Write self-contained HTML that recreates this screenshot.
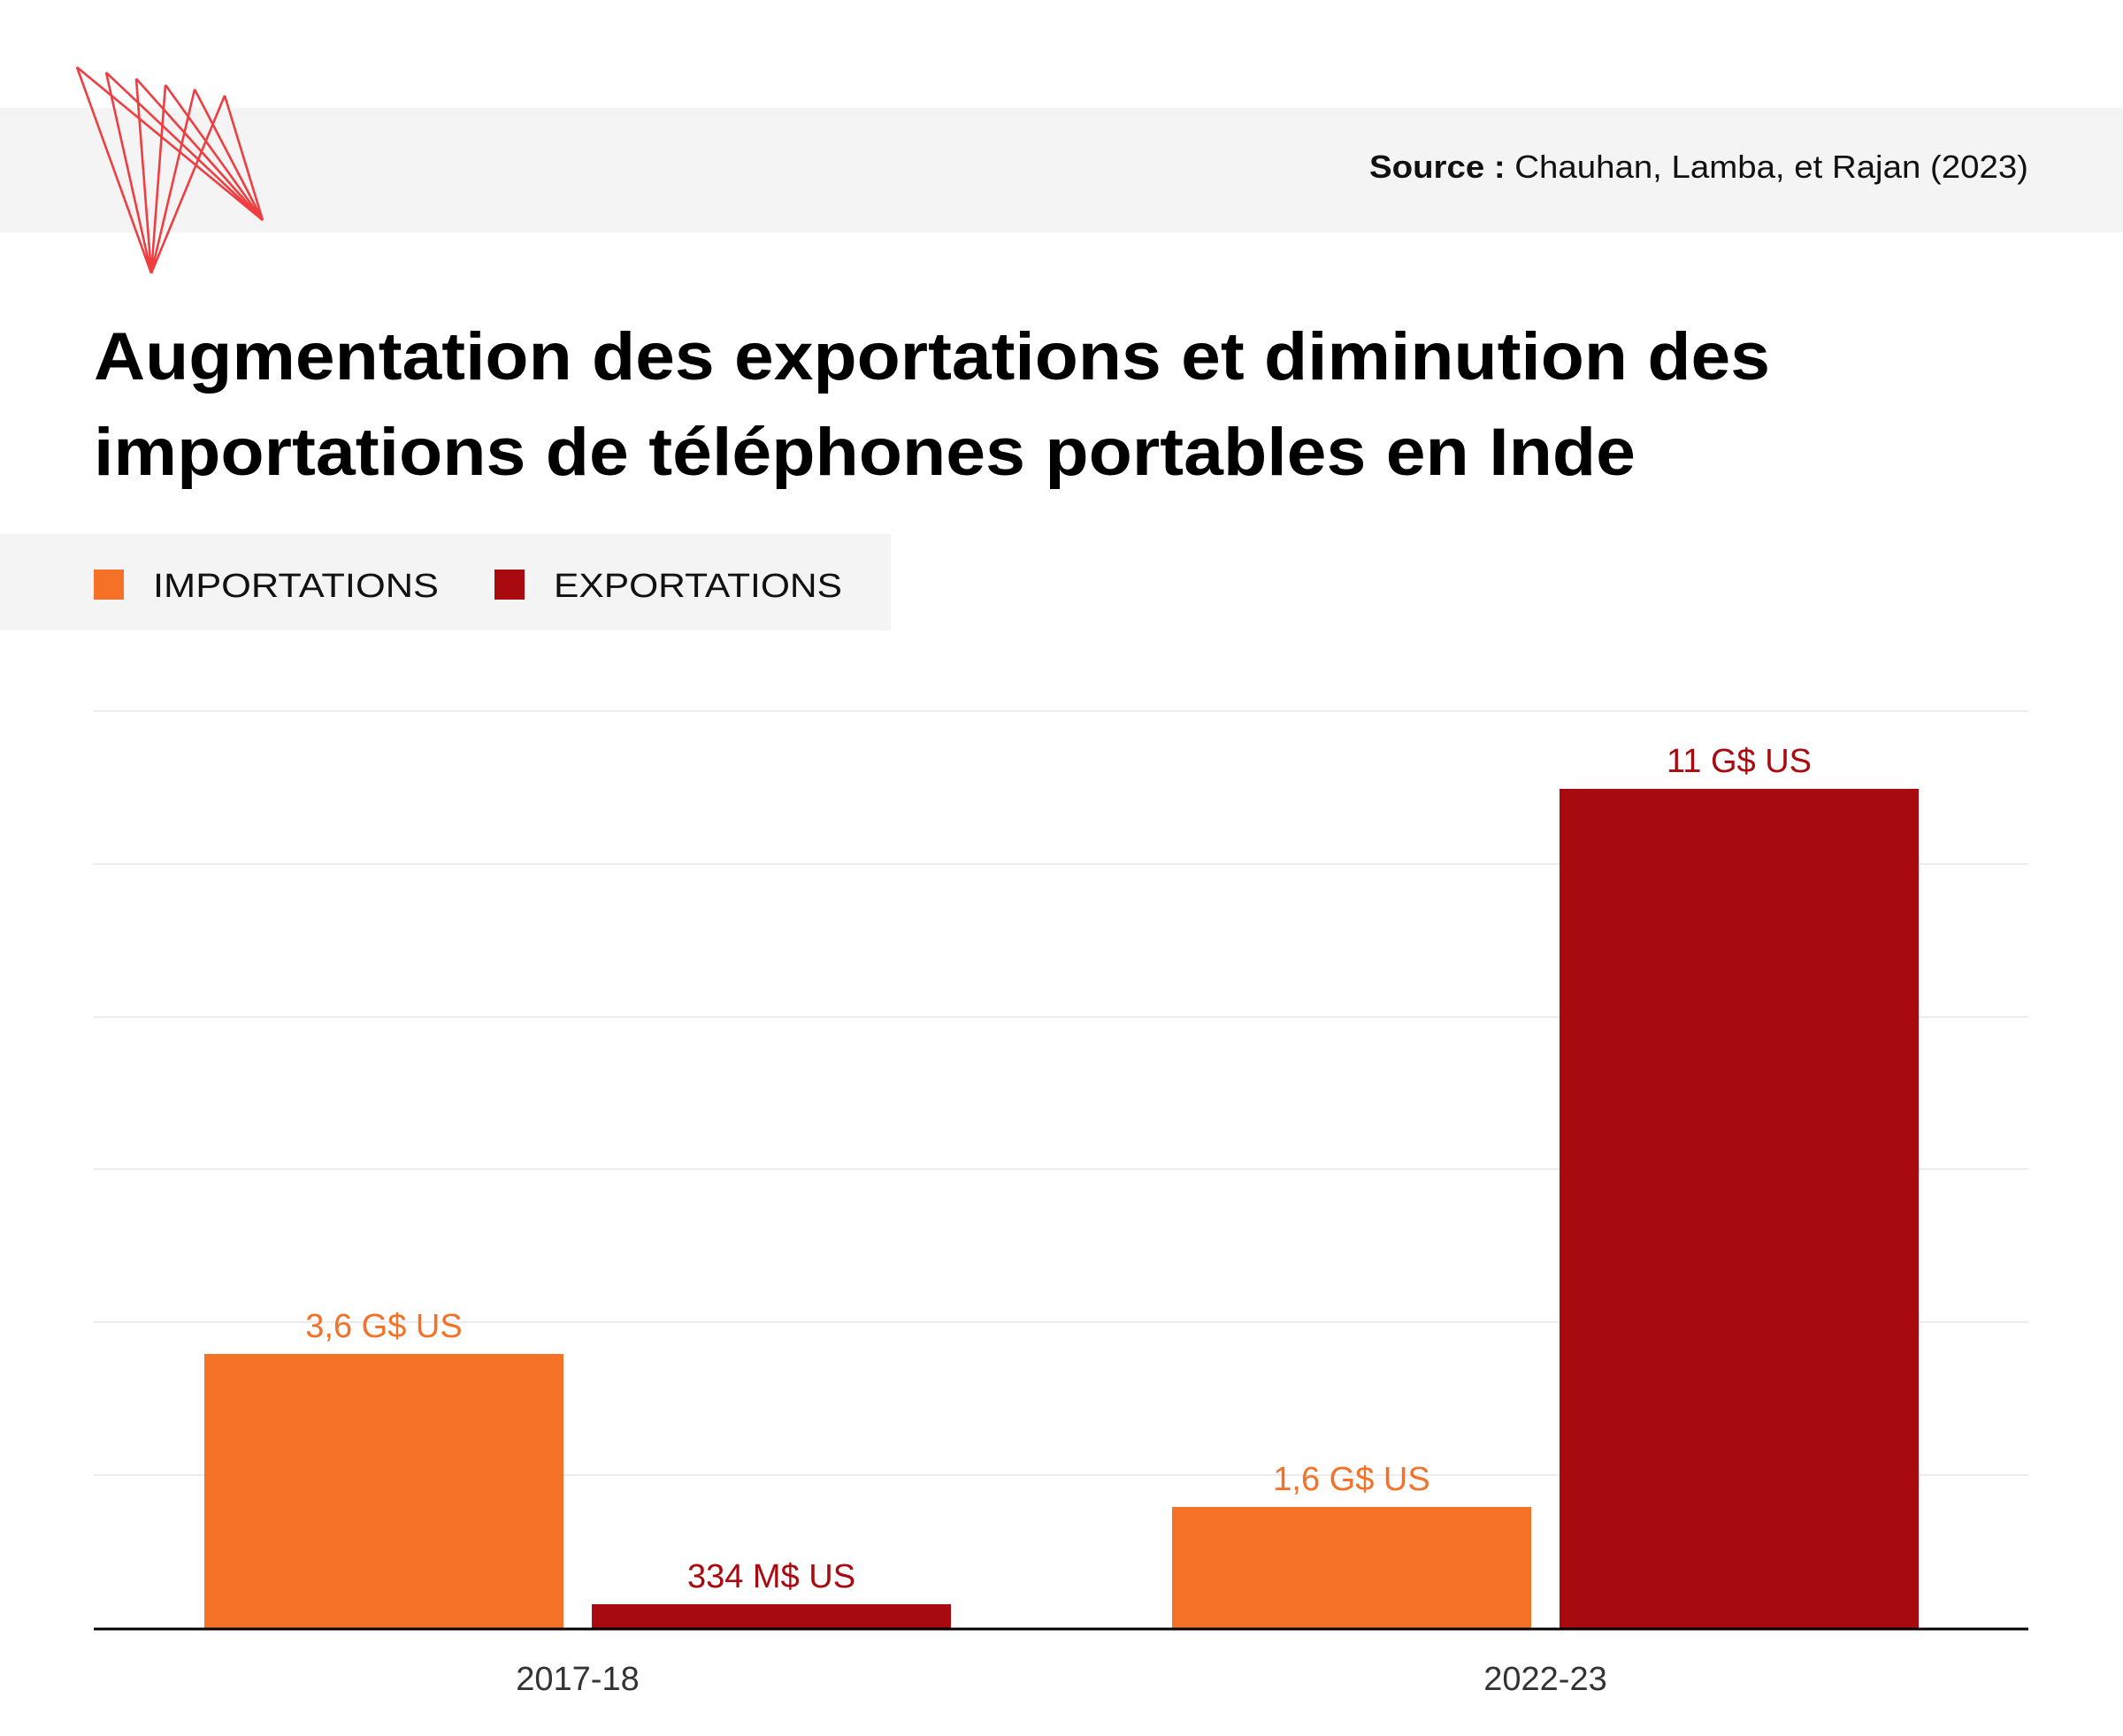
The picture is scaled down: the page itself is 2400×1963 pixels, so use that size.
<!DOCTYPE html>
<html><head><meta charset="utf-8"><style>
html,body{margin:0;padding:0;background:#fff}
svg{display:block}
text{font-family:"Liberation Sans",sans-serif}
</style></head><body>
<svg width="2400" height="1963" viewBox="0 0 2400 1963" xmlns="http://www.w3.org/2000/svg">
<rect x="0" y="122" width="2400" height="141" fill="#f4f4f4"/>
<g stroke="#ef3e42" stroke-width="2.6" fill="none" stroke-linejoin="round">
<path d="M87 76 L171 309 M87 76 L297 249"/>
<path d="M120 82 L171 309 M120 82 L297 249"/>
<path d="M154 89 L171 309 M154 89 L297 249"/>
<path d="M187 96 L171 309 M187 96 L297 249"/>
<path d="M220 101 L171 309 M220 101 L297 249"/>
<path d="M254 108 L171 309 M254 108 L297 249"/>
</g>
<text x="2293" y="201" font-size="36" text-anchor="end" fill="#111" textLength="745" lengthAdjust="spacingAndGlyphs"><tspan font-weight="bold">Source :</tspan> Chauhan, Lamba, et Rajan (2023)</text>
<text x="106" y="429" font-size="76" font-weight="bold" fill="#000" textLength="1895" lengthAdjust="spacingAndGlyphs">Augmentation des exportations et diminution des</text>
<text x="106" y="537" font-size="76" font-weight="bold" fill="#000" textLength="1743" lengthAdjust="spacingAndGlyphs">importations de téléphones portables en Inde</text>
<rect x="0" y="604" width="1007" height="109" fill="#f4f4f4"/>
<rect x="106" y="644" width="34" height="34" fill="#f47127"/>
<text x="173" y="675" font-size="38" fill="#111" textLength="323" lengthAdjust="spacingAndGlyphs">IMPORTATIONS</text>
<rect x="559" y="644" width="34" height="34" fill="#a90a10"/>
<text x="626" y="675" font-size="38" fill="#111" textLength="326" lengthAdjust="spacingAndGlyphs">EXPORTATIONS</text>
<g stroke="#ececec" stroke-width="2">
<line x1="106" y1="804" x2="2293" y2="804"/>
<line x1="106" y1="977" x2="2293" y2="977"/>
<line x1="106" y1="1150" x2="2293" y2="1150"/>
<line x1="106" y1="1322" x2="2293" y2="1322"/>
<line x1="106" y1="1495" x2="2293" y2="1495"/>
<line x1="106" y1="1668" x2="2293" y2="1668"/>
</g>
<rect x="231" y="1531" width="406" height="311" fill="#f47127"/>
<rect x="669" y="1814" width="406" height="28" fill="#a90a10"/>
<rect x="1325" y="1704" width="406" height="138" fill="#f47127"/>
<rect x="1763" y="892" width="406" height="950" fill="#a90a10"/>
<line x1="106" y1="1842" x2="2293" y2="1842" stroke="#000" stroke-width="3"/>
<g font-size="38" text-anchor="middle">
<text x="434" y="1512" fill="#f47127">3,6 G$ US</text>
<text x="872" y="1795" fill="#a90a10">334 M$ US</text>
<text x="1528" y="1685" fill="#f47127">1,6 G$ US</text>
<text x="1966" y="873" fill="#a90a10">11 G$ US</text>
<text x="653" y="1911" fill="#333">2017-18</text>
<text x="1747" y="1911" fill="#333">2022-23</text>
</g>
</svg>
</body></html>
